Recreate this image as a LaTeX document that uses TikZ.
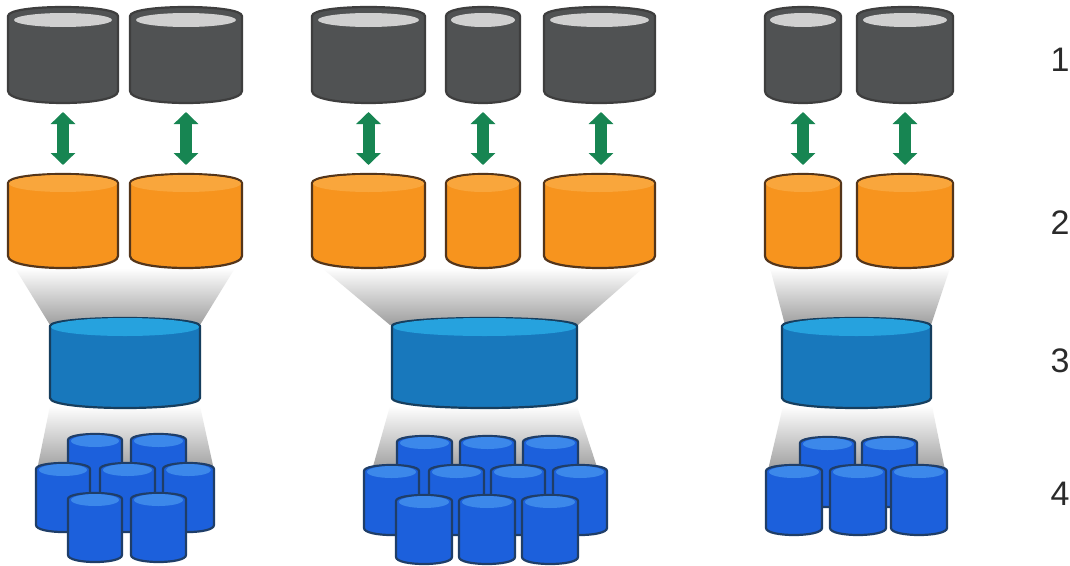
\documentclass[tikz,border=0pt]{standalone}
\usepackage{fontspec}
\setmainfont{Liberation Sans}
\usetikzlibrary{arrows.meta}
\definecolor{graybody}{HTML}{505253}
\definecolor{graytop}{HTML}{D0D0D0}
\definecolor{grayline}{HTML}{3E3E3E}
\definecolor{orangebody}{HTML}{F7941E}
\definecolor{orangetop}{HTML}{F9A63C}
\definecolor{orangeline}{HTML}{54351A}
\definecolor{bluebody}{HTML}{1878BC}
\definecolor{bluetop}{HTML}{26A2DE}
\definecolor{blueline}{HTML}{163E5E}
\definecolor{smallbody}{HTML}{1C60DC}
\definecolor{smalltop}{HTML}{3C88EA}
\definecolor{smallline}{HTML}{1F3E68}
\definecolor{arrowgreen}{HTML}{178552}
\definecolor{labelgray}{HTML}{2A2A2A}
% offset of the top ellipse below the rim, and its vertical radius
\newcommand{\grayoff}{4}\newcommand{\grayry}{7}
\newcommand{\orangeoff}{0.5}\newcommand{\orangery}{8.5}
\newcommand{\blueoff}{1}\newcommand{\bluery}{9}
\newcommand{\smalloff}{1}\newcommand{\smallry}{6}
\tikzset{
  anchorbox/.style={inner sep=0pt,outer sep=0pt},
  bidir/.style={draw=arrowgreen,line width=12pt,
    {Triangle[length=12pt,width=24pt,fill=arrowgreen]}-{Triangle[length=12pt,width=24pt,fill=arrowgreen]}},
  funnel/.style={top color=white,bottom color=#1},
  funnel/.default={black!38},
  rowlabel/.style={font=\fontsize{34}{34}\selectfont,text=labelgray,inner sep=0pt},
}
% name, x1, x2, ytop, ybottom, top radius, bottom radius, kind, inset of the top ellipse
\newcommand{\cyl}[9]{%
  \pgfmathsetmacro{\cylcx}{(#2+#3)/2}%
  \pgfmathsetmacro{\cylcy}{(#4+#5)/2}%
  \pgfmathsetmacro{\cylw}{#3-#2}%
  \pgfmathsetmacro{\cylh}{#5-#4}%
  \pgfmathsetmacro{\cylrx}{\cylw/2}%
  \pgfmathsetmacro{\cylin}{\cylrx-#9}%
  \pgfmathsetmacro{\cylcyt}{#4+#6+\csname #8off\endcsname}%
  \node[anchorbox,minimum width=\cylw pt,minimum height=\cylh pt] (#1) at (\cylcx,\cylcy) {};
  \draw[draw=#8line,line width=2.2pt,fill=#8body,line join=round]
    (#2,#4+#6) .. controls (#2,#4-#6/3) and (#3,#4-#6/3) .. (#3,#4+#6)
    -- (#3,#5-#7) .. controls (#3,#5+#7/3) and (#2,#5+#7/3) .. (#2,#5-#7) -- cycle;
  \fill[#8top] (\cylcx,\cylcyt) ellipse[x radius=\cylin,y radius=\csname #8ry\endcsname];
}
\begin{document}
\begin{tikzpicture}[x=1pt,y=-1pt]
\useasboundingbox (0,0) rectangle (1070,565);
\fill[white] (0,0) rectangle (1070,565);

% funnels, group 1
\shade[funnel] (15,268) -- (235,268) -- (200,325) -- (50,325) -- cycle;
\shade[funnel] (50,406) -- (200,406) -- (214,470) -- (37,470) -- cycle;
% funnels, group 2
\shade[funnel] (322,268) -- (643,268) -- (578,325) -- (390,325) -- cycle;
\shade[funnel] (390,406) -- (577,406) -- (598,470) -- (372,470) -- cycle;
% funnels, group 3
\shade[funnel] (770,268) -- (950,268) -- (931,325) -- (785,325) -- cycle;
\shade[funnel] (783,406) -- (932,406) -- (945,470) -- (768,470) -- cycle;

% row 1
\cyl{ga}{8}{118}{7}{103}{9}{12}{gray}{6}
\cyl{gb}{130}{242}{7}{103}{9}{12}{gray}{6}
\cyl{gc}{312}{425}{7}{103}{9}{12}{gray}{6}
\cyl{gd}{446}{520}{7}{103}{9}{12}{gray}{5}
\cyl{ge}{544}{655}{7}{103}{9}{12}{gray}{6}
\cyl{gf}{765}{841}{7}{103}{9}{12}{gray}{5}
\cyl{gg}{857}{953}{7}{103}{9}{12}{gray}{6}

% row 2
\cyl{oa}{8}{118}{174}{268}{9}{12}{orange}{1}
\cyl{ob}{130}{242}{174}{268}{9}{12}{orange}{1}
\cyl{oc}{312}{425}{174}{268}{9}{12}{orange}{1}
\cyl{od}{446}{520}{174}{268}{9}{12}{orange}{1}
\cyl{oe}{544}{655}{174}{268}{9}{12}{orange}{1}
\cyl{of}{765}{841}{174}{268}{9}{12}{orange}{1}
\cyl{og}{857}{953}{174}{268}{9}{12}{orange}{1}

% connectors between rows 1 and 2
\draw[bidir] ([yshift=-9pt]ga.south) -- ([yshift=9pt]oa.north);
\draw[bidir] ([yshift=-9pt]gb.south) -- ([yshift=9pt]ob.north);
\draw[bidir] ([yshift=-9pt]gc.south) -- ([yshift=9pt]oc.north);
\draw[bidir] ([yshift=-9pt]gd.south) -- ([yshift=9pt]od.north);
\draw[bidir] ([xshift=1.5pt,yshift=-9pt]ge.south) -- ([xshift=1.5pt,yshift=9pt]oe.north);
\draw[bidir] ([yshift=-9pt]gf.south) -- ([yshift=9pt]of.north);
\draw[bidir] ([yshift=-9pt]gg.south) -- ([yshift=9pt]og.north);

% row 3
\cyl{ba}{50}{200}{318}{408}{8}{10}{blue}{1}
\cyl{bb}{392}{577}{318}{408}{8}{10}{blue}{1}
\cyl{bc}{782}{931}{318}{408}{8}{10}{blue}{1}

% row 4, group 1
\cyl{sa}{68}{122}{434}{504}{6}{7}{small}{3}
\cyl{sb}{131}{186}{434}{504}{6}{7}{small}{3}
\cyl{sc}{36}{90}{463}{532}{6}{7}{small}{3}
\cyl{sd}{163}{214}{463}{532}{6}{7}{small}{3}
\cyl{se}{100}{155}{463}{532}{6}{7}{small}{3}
\cyl{sf}{68}{122}{493}{562}{6}{7}{small}{3}
\cyl{sg}{131}{186}{493}{562}{6}{7}{small}{3}

% row 4, group 2
\cyl{ta}{397}{452}{436}{506}{6}{7}{small}{3}
\cyl{tb}{460}{515}{436}{506}{6}{7}{small}{3}
\cyl{tc}{523}{578}{436}{506}{6}{7}{small}{3}
\cyl{td}{364}{419}{465}{535}{6}{7}{small}{3}
\cyl{te}{553}{607}{465}{535}{6}{7}{small}{3}
\cyl{tf}{429}{484}{465}{535}{6}{7}{small}{3}
\cyl{tg}{491}{545}{465}{535}{6}{7}{small}{3}
\cyl{th}{396}{452}{495}{564}{6}{7}{small}{3}
\cyl{ti}{459}{515}{495}{564}{6}{7}{small}{3}
\cyl{tj}{522}{578}{495}{564}{6}{7}{small}{3}

% row 4, group 3
\cyl{ua}{800}{855}{437}{507}{6}{7}{small}{3}
\cyl{ub}{862}{917}{437}{507}{6}{7}{small}{3}
\cyl{uc}{766}{822}{465}{535}{6}{7}{small}{3}
\cyl{ud}{891}{947}{465}{535}{6}{7}{small}{3}
\cyl{ue}{830}{886}{465}{535}{6}{7}{small}{3}

% row numbers
\node[rowlabel] (la) at (1060,60) {1};
\node[rowlabel] (lb) at (1060,223) {2};
\node[rowlabel] (lc) at (1060,361) {3};
\node[rowlabel] (ld) at (1060,494) {4};
\end{tikzpicture}
\end{document}
